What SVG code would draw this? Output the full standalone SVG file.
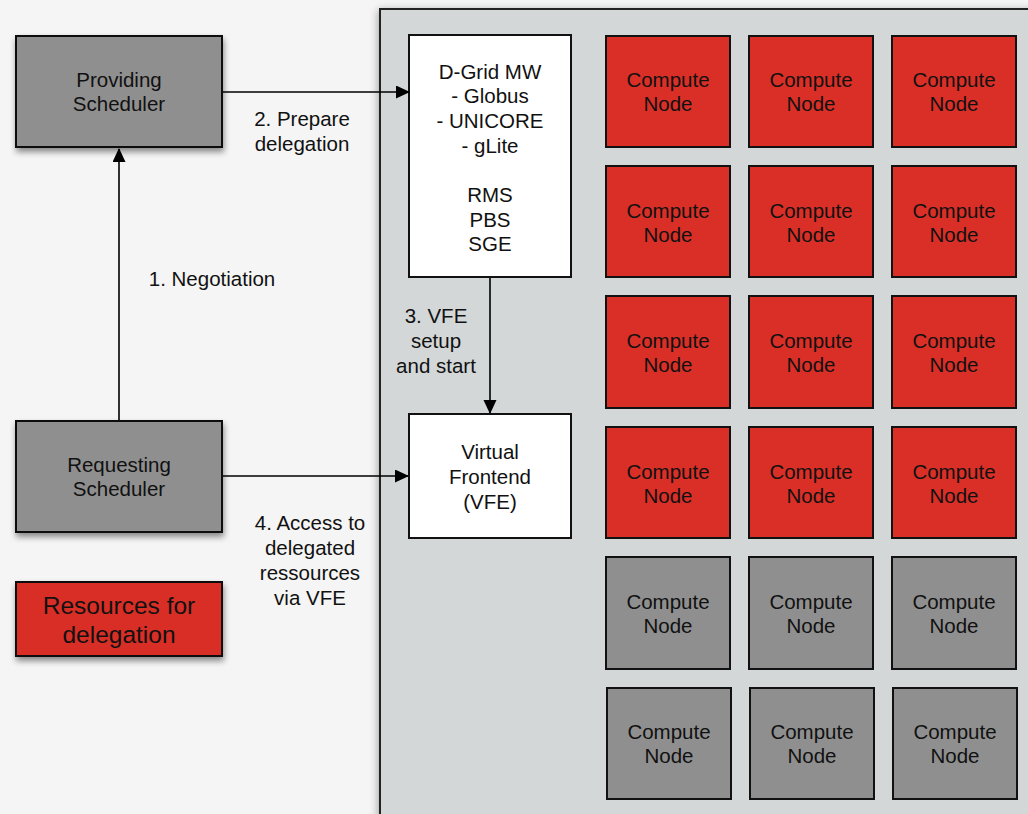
<svg xmlns="http://www.w3.org/2000/svg" width="1028" height="814" viewBox="0 0 1028 814">
<defs>
<filter id="sh" x="-20%" y="-20%" width="150%" height="150%">
<feGaussianBlur in="SourceAlpha" stdDeviation="3"/>
<feOffset dx="1" dy="4" result="b"/>
<feComponentTransfer><feFuncA type="linear" slope="0.45"/></feComponentTransfer>
<feMerge><feMergeNode/><feMergeNode in="SourceGraphic"/></feMerge>
</filter>
<filter id="psh" x="-5%" y="-5%" width="110%" height="110%">
<feGaussianBlur in="SourceAlpha" stdDeviation="4"/>
<feOffset dx="-1" dy="2"/>
<feComponentTransfer><feFuncA type="linear" slope="0.35"/></feComponentTransfer>
<feMerge><feMergeNode/><feMergeNode in="SourceGraphic"/></feMerge>
</filter>
<marker id="ah" markerWidth="14" markerHeight="14" refX="13" refY="6.5" orient="auto" markerUnits="userSpaceOnUse">
<path d="M0,0 L14,6.5 L0,13 Z" fill="#000"/>
</marker>
<style>
text{font-family:"Liberation Sans",Arial,sans-serif;font-size:20.5px;fill:#111;text-anchor:middle}
.gray{fill:#8f8f8f;stroke:#111;stroke-width:2}
.red{fill:#d92f27;stroke:#111;stroke-width:2}
.white{fill:#fff;stroke:#111;stroke-width:2}
.conn{stroke:#000;stroke-width:1.6;fill:none;marker-end:url(#ah)}
.lbl{font-size:20.5px}
</style>
</defs>
<rect width="1028" height="814" fill="#f5f5f5"/>
<g id="panel">
<rect x="380" y="9" width="680" height="830" fill="#d4d7d8" stroke="#222" stroke-width="2" filter="url(#psh)"/>
</g>
<g id="providing-scheduler">
<rect class="gray" x="16" y="36" width="206" height="111" filter="url(#sh)"/>
<text x="119" y="87">Providing</text><text x="119" y="111">Scheduler</text>
</g>
<g id="requesting-scheduler">
<rect class="gray" x="16" y="421" width="206" height="111" filter="url(#sh)"/>
<text x="119" y="472">Requesting</text><text x="119" y="496">Scheduler</text>
</g>
<g id="legend">
<rect class="red" x="16" y="582" width="206" height="74" filter="url(#sh)"/>
<text x="119" y="614" style="font-size:24.5px">Resources for</text><text x="119" y="643" style="font-size:24.5px">delegation</text>
</g>
<g id="dgrid">
<rect class="white" x="409" y="35" width="162" height="242"/>
<text x="490" y="79">D-Grid MW</text>
<text x="490" y="103">- Globus</text>
<text x="490" y="128">- UNICORE</text>
<text x="490" y="153">- gLite</text>
<text x="490" y="202">RMS</text>
<text x="490" y="227">PBS</text>
<text x="490" y="251">SGE</text>
</g>
<g id="vfe">
<rect class="white" x="409" y="414" width="162" height="124"/>
<text x="490" y="459">Virtual</text>
<text x="490" y="484">Frontend</text>
<text x="490" y="509">(VFE)</text>
</g>
<g id="compute-nodes">
<g id="cn-1-1"><rect class="red" x="606" y="36" width="124" height="111"/><text x="668" y="87">Compute</text><text x="668" y="111">Node</text></g>
<g id="cn-1-2"><rect class="red" x="749" y="36" width="124" height="111"/><text x="811" y="87">Compute</text><text x="811" y="111">Node</text></g>
<g id="cn-1-3"><rect class="red" x="892" y="36" width="124" height="111"/><text x="954" y="87">Compute</text><text x="954" y="111">Node</text></g>
<g id="cn-2-1"><rect class="red" x="606" y="166" width="124" height="111"/><text x="668" y="218">Compute</text><text x="668" y="242">Node</text></g>
<g id="cn-2-2"><rect class="red" x="749" y="166" width="124" height="111"/><text x="811" y="218">Compute</text><text x="811" y="242">Node</text></g>
<g id="cn-2-3"><rect class="red" x="892" y="166" width="124" height="111"/><text x="954" y="218">Compute</text><text x="954" y="242">Node</text></g>
<g id="cn-3-1"><rect class="red" x="606" y="296" width="124" height="112"/><text x="668" y="348">Compute</text><text x="668" y="372">Node</text></g>
<g id="cn-3-2"><rect class="red" x="749" y="296" width="124" height="112"/><text x="811" y="348">Compute</text><text x="811" y="372">Node</text></g>
<g id="cn-3-3"><rect class="red" x="892" y="296" width="124" height="112"/><text x="954" y="348">Compute</text><text x="954" y="372">Node</text></g>
<g id="cn-4-1"><rect class="red" x="606" y="427" width="124" height="111"/><text x="668" y="479">Compute</text><text x="668" y="503">Node</text></g>
<g id="cn-4-2"><rect class="red" x="749" y="427" width="124" height="111"/><text x="811" y="479">Compute</text><text x="811" y="503">Node</text></g>
<g id="cn-4-3"><rect class="red" x="892" y="427" width="124" height="111"/><text x="954" y="479">Compute</text><text x="954" y="503">Node</text></g>
<g id="cn-5-1"><rect class="gray" x="606" y="557" width="124" height="112"/><text x="668" y="609">Compute</text><text x="668" y="633">Node</text></g>
<g id="cn-5-2"><rect class="gray" x="749" y="557" width="124" height="112"/><text x="811" y="609">Compute</text><text x="811" y="633">Node</text></g>
<g id="cn-5-3"><rect class="gray" x="892" y="557" width="124" height="112"/><text x="954" y="609">Compute</text><text x="954" y="633">Node</text></g>
<g id="cn-6-1"><rect class="gray" x="607" y="688" width="124" height="111"/><text x="669" y="739">Compute</text><text x="669" y="763">Node</text></g>
<g id="cn-6-2"><rect class="gray" x="750" y="688" width="124" height="111"/><text x="812" y="739">Compute</text><text x="812" y="763">Node</text></g>
<g id="cn-6-3"><rect class="gray" x="893" y="688" width="124" height="111"/><text x="955" y="739">Compute</text><text x="955" y="763">Node</text></g>
</g>
<g id="connectors">
<line class="conn" x1="119" y1="420" x2="119" y2="149"/>
<line class="conn" x1="223" y1="92" x2="409" y2="92"/>
<line class="conn" x1="490" y1="278" x2="490" y2="413"/>
<line class="conn" x1="223" y1="476" x2="408" y2="476"/>
<text class="lbl" x="212" y="286">1. Negotiation</text>
<text class="lbl" x="302" y="126">2. Prepare</text>
<text class="lbl" x="302" y="151">delegation</text>
<text class="lbl" x="436" y="323">3. VFE</text>
<text class="lbl" x="436" y="348">setup</text>
<text class="lbl" x="436" y="373">and start</text>
<text class="lbl" x="310" y="530">4. Access to</text>
<text class="lbl" x="310" y="555">delegated</text>
<text class="lbl" x="310" y="580">ressources</text>
<text class="lbl" x="310" y="605">via VFE</text>
</g>
</svg>
